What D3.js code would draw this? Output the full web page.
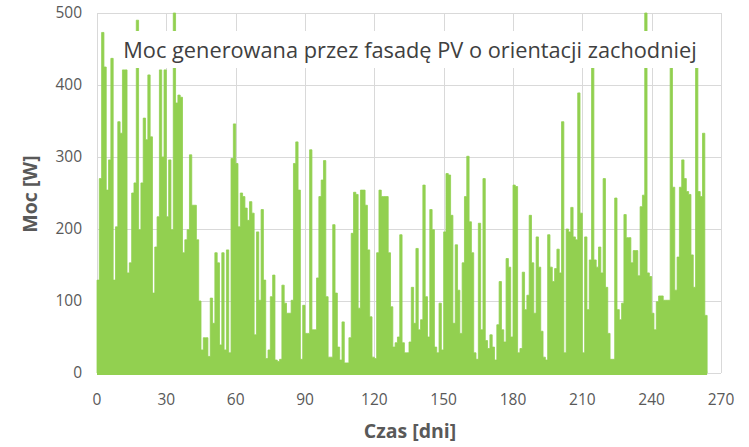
<!DOCTYPE html>
<html><head><meta charset="utf-8">
<script src="https://cdn.jsdelivr.net/npm/d3@7"></script>
<style>html,body{margin:0;padding:0;background:#fff;}svg{display:block;}</style>
</head><body>
<svg id="chart" width="749" height="447"></svg>
<script>
// Daily peak power [W], day 0 .. 263
const power = [
129,270,473,425,254,296,437,129,203,349,333,421,421,139,153,250,264,490,199,264,
354,324,414,328,111,175,217,421,300,421,217,296,199,500,375,386,383,167,185,199,
303,233,233,185,100,32,49,49,23,104,69,167,153,39,167,32,171,28,298,346,
291,203,250,245,229,212,238,222,53,196,101,227,129,20,32,106,136,18,16,19,
122,97,83,83,101,291,321,254,19,94,55,55,310,60,60,132,245,268,295,106,
22,22,206,111,36,18,71,14,14,49,194,251,248,90,254,254,233,171,78,22,
20,167,254,245,245,245,167,92,36,42,50,192,42,28,28,43,119,69,173,60,
74,261,106,50,227,199,36,28,97,32,196,277,275,219,69,178,115,55,153,245,
301,210,167,28,19,208,60,270,45,34,53,36,18,67,127,60,43,159,147,50,
261,259,28,34,140,88,108,219,153,83,189,147,58,22,18,192,147,127,145,172,
139,349,28,200,196,230,189,185,389,222,28,189,88,157,440,157,147,175,139,270,
119,55,19,19,243,88,74,97,220,188,188,153,170,170,135,231,247,500,139,134,
83,60,99,107,107,101,101,101,440,258,115,161,258,296,270,252,248,164,119,440,
252,245,333,80
];
const xTicks = [0,30,60,90,120,150,180,210,240,270];
const yTicks = [0,100,200,300,400,500];
const title = "Moc generowana przez fasadę PV o orientacji zachodniej";
const xTitle = "Czas [dni]";
const yTitle = "Moc [W]";

const svg = d3.select("#chart");
const L = 97, R = 721, T = 13, B = 373;
const x = d3.scaleLinear().domain([0,270]).range([L,R]);
const y = d3.scaleLinear().domain([0,500]).range([B,T]);
const green = "#92D050", grid = "#d9d9d9", txt = "#595959";

// grid
const g = svg.append("g");
g.selectAll(".hg").data(yTicks).join("line")
  .attr("x1",L).attr("x2",R).attr("y1",d=>y(d)+0.5).attr("y2",d=>y(d)+0.5)
  .attr("stroke",grid).attr("stroke-width",1);
g.selectAll(".vg").data(xTicks).join("line")
  .attr("y1",T).attr("y2",B).attr("x1",d=>Math.round(x(d))+0.5).attr("x2",d=>Math.round(x(d))+0.5)
  .attr("stroke",grid).attr("stroke-width",1);

// series
const pts = power.map((v,i)=>[i,v]);
pts.push([power.length, power[power.length-1]]);
const area = d3.area().x(d=>x(d[0])).y0(y(0)).y1(d=>y(d[1])).curve(d3.curveStepAfter);
svg.append("path").datum(pts).attr("d",area)
  .attr("fill",green).attr("stroke",green).attr("stroke-width",0.8);
svg.append("line").attr("x1",x(0)).attr("x2",x(power.length))
  .attr("y1",y(0)).attr("y2",y(0)).attr("stroke",green).attr("stroke-width",4);

// title box (covers data, like the reference)
const tg = svg.append("g");
tg.append("rect").attr("x",114).attr("y",31).attr("width",592).attr("height",37).attr("fill","#fff");
const tt = tg.append("text").attr("x",410).attr("y",58).attr("text-anchor","middle")
  .attr("font-family","'Open Sans', 'Noto Sans', sans-serif").attr("font-size",20)
  .attr("fill","#404040").text(title);
const w = tt.node().getComputedTextLength();
tt.attr("font-size", 20*574/w);

// tick labels
svg.selectAll(".yt").data(yTicks).join("text")
  .attr("x",82).attr("y",d=>y(d)).attr("dy","0.35em").attr("text-anchor","end")
  .attr("font-family","'Open Sans', sans-serif").attr("font-size",15.5).attr("fill",txt)
  .text(d=>d);
svg.selectAll(".xt").data(xTicks).join("text")
  .attr("x",d=>x(d)).attr("y",400).attr("dy","0.35em").attr("text-anchor","middle")
  .attr("font-family","'Open Sans', sans-serif").attr("font-size",15.5).attr("fill",txt)
  .text(d=>d);

// axis titles
svg.append("text").attr("x",410).attr("y",431).attr("dy","0.35em").attr("text-anchor","middle")
  .attr("font-family","'Open Sans', sans-serif").attr("font-weight","bold").attr("font-size",19.5)
  .attr("fill",txt).text(xTitle);
svg.append("text").attr("transform","translate(30,194) rotate(-90)").attr("dy","0.35em")
  .attr("text-anchor","middle")
  .attr("font-family","'Open Sans', sans-serif").attr("font-weight","bold").attr("font-size",19.5)
  .attr("fill",txt).text(yTitle);
</script>
</body></html>
